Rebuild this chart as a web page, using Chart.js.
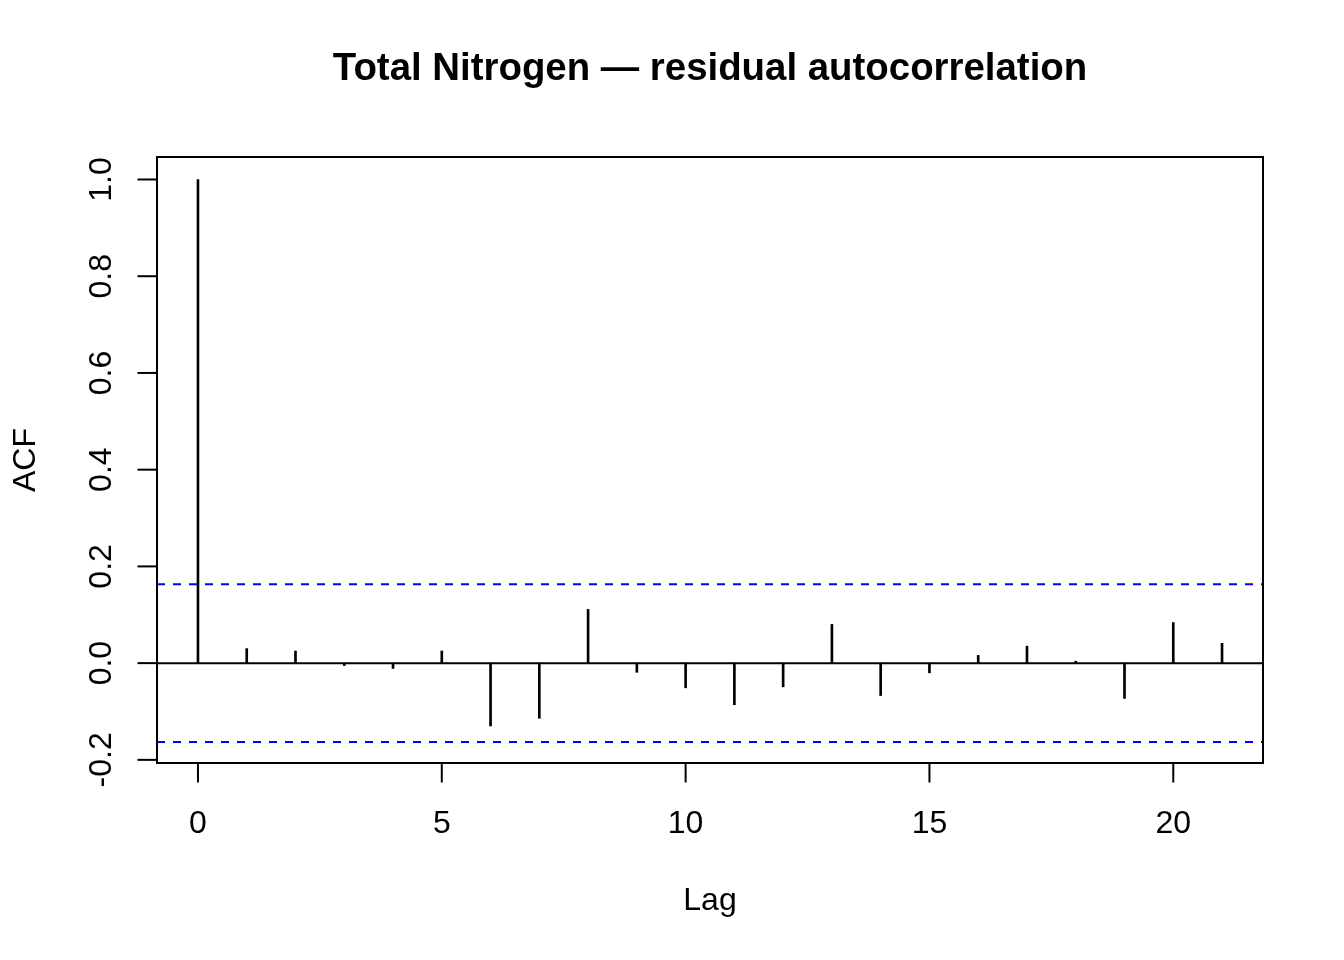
<!DOCTYPE html>
<html>
<head>
<meta charset="utf-8">
<title>Total Nitrogen — residual autocorrelation</title>
<script src="https://cdn.jsdelivr.net/npm/chart.js@4.4.1/dist/chart.umd.min.js"></script>
<style>
  html, body { margin: 0; padding: 0; background: #ffffff; }
  #wrap { width: 1344px; height: 960px; }
</style>
</head>
<body>
<div id="wrap"><canvas id="acfChart" width="1344" height="960"></canvas></div>
<script>
// values
const lags = [0, 1, 2, 3, 4, 5, 6, 7, 8, 9, 10, 11, 12, 13, 14, 15, 16, 17, 18, 19, 20, 21];
const acfValues = [1.000, 0.030, 0.025, -0.005, -0.011, 0.025, -0.130, -0.114, 0.111, -0.019,
                   -0.051, -0.086, -0.049, 0.080, -0.067, -0.020, 0.016, 0.035, 0.004, -0.073,
                   0.084, 0.041];
const ciBound = 0.163;

const xTicks = [0, 5, 10, 15, 20];
const yTicks = [-0.2, 0.0, 0.2, 0.4, 0.6, 0.8, 1.0];
const xLimits = [-0.84, 21.84];
const yLimits = [-0.2065, 1.0465];

const titleText = 'Total Nitrogen — residual autocorrelation';
const xTitle = 'Lag';
const yTitle = 'ACF';

const fontFamily = '"Liberation Sans", Arial, Helvetica, sans-serif';

// R style frame, ticks and labels, placed through the chart scales
const rAxes = {
    id: 'rAxes',
    afterDraw(chart) {
        const ctx = chart.ctx;
        const area = chart.chartArea;
        const xs = chart.scales.x;
        const ys = chart.scales.y;
        const tick = 19.5;

        ctx.save();
        ctx.strokeStyle = '#000';
        ctx.fillStyle = '#000';
        ctx.lineWidth = 2;
        ctx.strokeRect(area.left, area.top, area.right - area.left, area.bottom - area.top);

        ctx.font = '32px ' + fontFamily;
        ctx.textAlign = 'center';
        ctx.textBaseline = 'alphabetic';

        xTicks.forEach(v => {
            const px = xs.getPixelForValue(v);
            ctx.beginPath();
            ctx.moveTo(px, area.bottom);
            ctx.lineTo(px, area.bottom + tick);
            ctx.stroke();
            ctx.fillText(String(v), px, area.bottom + 70);
        });

        yTicks.forEach(v => {
            const py = ys.getPixelForValue(v);
            ctx.beginPath();
            ctx.moveTo(area.left, py);
            ctx.lineTo(area.left - tick, py);
            ctx.stroke();
            ctx.save();
            ctx.translate(area.left - 46, py);
            ctx.rotate(-Math.PI / 2);
            ctx.fillText(v.toFixed(1), 0, 0);
            ctx.restore();
        });

        const cx = (area.left + area.right) / 2;
        const cy = (area.top + area.bottom) / 2;
        ctx.fillText(xTitle, cx, area.bottom + 147);

        ctx.save();
        ctx.translate(area.left - 122, cy);
        ctx.rotate(-Math.PI / 2);
        ctx.fillText(yTitle, 0, 0);
        ctx.restore();

        ctx.font = 'bold 38.4px ' + fontFamily;
        ctx.fillText(titleText, cx, 80);
        ctx.restore();
    }
};

const ctx = document.getElementById('acfChart').getContext('2d');
window.acfChart = new Chart(ctx, {
    type: 'bar',
    data: {
        datasets: [
            {
                type: 'bar',
                label: 'ACF',
                data: lags.map((l, i) => ({ x: l, y: acfValues[i] })),
                backgroundColor: '#000000',
                borderWidth: 0,
                barThickness: 2,
                grouped: false,
                order: 1
            },
            {
                type: 'line',
                label: 'zero',
                data: [{ x: xLimits[0], y: 0 }, { x: xLimits[1], y: 0 }],
                borderColor: '#000000',
                borderWidth: 2,
                pointRadius: 0,
                order: 0
            },
            {
                type: 'line',
                label: 'upper bound',
                data: [{ x: xLimits[0], y: ciBound }, { x: xLimits[1], y: ciBound }],
                borderColor: '#0000ff',
                borderWidth: 2,
                borderDash: [8, 8],
                pointRadius: 0,
                order: 0
            },
            {
                type: 'line',
                label: 'lower bound',
                data: [{ x: xLimits[0], y: -ciBound }, { x: xLimits[1], y: -ciBound }],
                borderColor: '#0000ff',
                borderWidth: 2,
                borderDash: [8, 8],
                pointRadius: 0,
                order: 0
            }
        ]
    },
    options: {
        responsive: false,
        devicePixelRatio: 1,
        animation: false,
        layout: { padding: { left: 157, right: 81, top: 157, bottom: 197 } },
        scales: {
            x: { type: 'linear', min: xLimits[0], max: xLimits[1], offset: false, display: false },
            y: { type: 'linear', min: yLimits[0], max: yLimits[1], display: false }
        },
        plugins: {
            legend: { display: false },
            tooltip: { enabled: false },
            title: { display: false }
        }
    },
    plugins: [rAxes]
});
</script>
</body>
</html>
